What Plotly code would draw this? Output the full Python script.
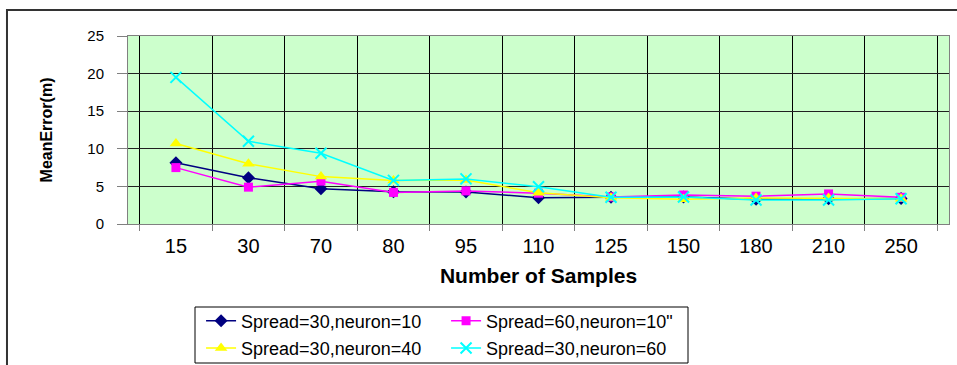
import plotly.graph_objects as go

samples = ["15", "30", "70", "80", "95", "110", "125", "150", "180", "210", "250"]
s30_n10 = [8.15, 6.15, 4.7, 4.3, 4.25, 3.5, 3.55, 3.6, 3.3, 3.35, 3.4]
s60_n10 = [7.5, 4.9, 5.7, 4.2, 4.4, 4.1, 3.6, 3.85, 3.7, 4.0, 3.55]
s30_n40 = [10.7, 8.0, 6.3, 5.8, 5.85, 4.15, 3.5, 3.3, 3.45, 3.45, 3.35]
s30_n60 = [19.5, 11.0, 9.4, 5.8, 6.0, 4.95, 3.55, 3.6, 3.2, 3.2, 3.35]
names = ["Spread=30,neuron=10", "Spread=60,neuron=10\"",
         "Spread=30,neuron=40", "Spread=30,neuron=60"]

FONT = "Arial, Liberation Sans, sans-serif"

fig = go.Figure()
fig.add_trace(go.Scatter(x=samples, y=s30_n10, name=names[0], mode="lines+markers",
                         line=dict(color="#000080", width=1.5),
                         marker=dict(symbol="diamond", size=10, color="#000080"),
                         legend="legend"))
fig.add_trace(go.Scatter(x=samples, y=s60_n10, name=names[1], mode="lines+markers",
                         line=dict(color="#FF00FF", width=1.5),
                         marker=dict(symbol="square", size=9, color="#FF00FF"),
                         legend="legend"))
fig.add_trace(go.Scatter(x=samples, y=s30_n40, name=names[2], mode="lines+markers",
                         line=dict(color="#FFFF00", width=1.5),
                         marker=dict(symbol="triangle-up", size=11, color="#FFFF00"),
                         legend="legend2"))
fig.add_trace(go.Scatter(x=samples, y=s30_n60, name=names[3], mode="lines+markers",
                         line=dict(color="#00FFFF", width=1.5),
                         marker=dict(symbol="x-thin-open", size=11, color="#00FFFF",
                                     line=dict(color="#00FFFF", width=2)),
                         legend="legend2"))

legend_common = dict(orientation="h", font=dict(family=FONT, size=18, color="black"),
                     bgcolor="rgba(0,0,0,0)", borderwidth=0,
                     xanchor="left", yanchor="top", entrywidth=200, traceorder="normal")

fig.update_layout(
    width=957, height=365,
    margin=dict(l=128, r=8, t=36, b=141, autoexpand=False),
    paper_bgcolor="white",
    plot_bgcolor="#CCFFCC",
    showlegend=True,
    legend=dict(x=0.089, y=-0.418, **legend_common),
    legend2=dict(x=0.089, y=-0.563, **legend_common),
    xaxis=dict(
        type="category", tickson="boundaries", automargin=False,
        showgrid=True, gridcolor="black", gridwidth=1,
        showline=True, linecolor="#808080", linewidth=1, mirror=True,
        ticks="outside", ticklen=6, tickcolor="#808080",
        tickfont=dict(family=FONT, size=20, color="black"),
        ticklabelstandoff=4,
        title=dict(text="<b>Number of Samples</b>", font=dict(family=FONT, size=21, color="black"),
                   standoff=12),
    ),
    yaxis=dict(
        range=[0, 25], dtick=5, tick0=0, automargin=False,
        showgrid=True, gridcolor="#202020", gridwidth=1,
        zeroline=False,
        showline=True, linecolor="#808080", linewidth=1, mirror=True,
        ticks="outside", ticklen=10, tickcolor="#808080",
        tickfont=dict(family=FONT, size=15, color="black"),
        ticklabelstandoff=10,
        title=dict(text="<b>MeanError(m)</b>", font=dict(family=FONT, size=16, color="black"),
                   standoff=30),
    ),
    shapes=[
        dict(type="rect", xref="paper", yref="paper",
             x0=-0.1474, x1=1.2, y0=-1.2, y1=1.138,
             line=dict(color="#333333", width=2), fillcolor="rgba(0,0,0,0)", layer="below"),
        dict(type="rect", xref="paper", yref="paper",
             x0=(195 - 128) / 821, x1=(688 - 128) / 821,
             y0=(224 - 363) / 188, y1=(224 - 307) / 188,
             line=dict(color="black", width=1), fillcolor="white", layer="below"),
    ],
)

fig.write_html("out.html")
